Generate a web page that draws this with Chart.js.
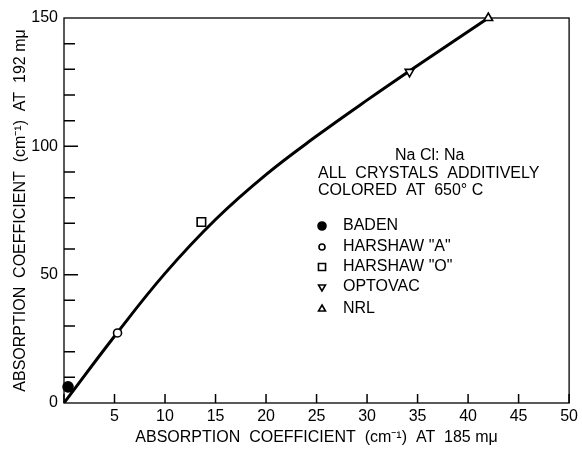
<!DOCTYPE html>
<html>
<head>
<meta charset="utf-8">
<script src="https://cdn.jsdelivr.net/npm/chart.js@4.4.1/dist/chart.umd.min.js"></script>
<style>
  html, body { margin: 0; padding: 0; background: #fff; }
  #wrap { width: 582px; height: 449px; }
</style>
</head>
<body>
<div id="wrap"><canvas id="myChart" width="582" height="449"></canvas></div>
<script>
// fitted curve
const curveX = [0, 5, 10, 15, 20, 25, 30, 35, 42];
const curveY = [0, 26, 50.5, 71.5, 89, 104, 118, 131.5, 150];

// measured crystals
const sampleNames = ['BADEN', 'HARSHAW "A"', 'HARSHAW "O"', 'OPTOVAC', 'NRL'];
const sampleX = [0.4, 5.3, 13.6, 34.2, 42];
const sampleY = [6.3, 27.3, 70.5, 129, 150];

const xTicks = [0, 5, 10, 15, 20, 25, 30, 35, 40, 45, 50];
const yTickLabels = [0, 50, 100, 150];

const noteLines = ['Na Cl: Na', 'ALL  CRYSTALS  ADDITIVELY', 'COLORED  AT  650\u00b0 C'];

const FONT = '"Liberation Sans", Arial, sans-serif';

// marker look per crystal
const markers = [
  { style: 'circle', fill: '#000', r: 5, rot: 0 },
  { style: 'circle', fill: '#fff', r: 4, rot: 0 },
  { style: 'rect', fill: '#fff', r: 6, rot: 0 },
  { style: 'triangle', fill: '#fff', r: 5, rot: 180 },
  { style: 'triangle', fill: '#fff', r: 5, rot: 0 }
];

let datasets = [{
  label: 'curve',
  data: curveX.map((x, i) => ({ x: x, y: curveY[i] })),
  showLine: true,
  borderColor: '#000',
  borderWidth: 3,
  pointRadius: 0,
  tension: 0.4,
  order: 2
}];
sampleNames.forEach((name, i) => {
  datasets.push({
    label: name,
    data: [{ x: sampleX[i], y: sampleY[i] }],
    showLine: false,
    clip: false,
    pointStyle: markers[i].style,
    pointRotation: markers[i].rot,
    pointRadius: markers[i].r,
    pointBackgroundColor: markers[i].fill,
    pointBorderColor: '#000',
    pointBorderWidth: 1.6,
    order: 1
  });
});

// frame, inward ticks and the note/legend text
const framePlugin = {
  id: 'frame',
  beforeDatasetsDraw(chart) {
    const ctx = chart.ctx;
    const a = chart.chartArea;
    const xs = chart.scales.x, ys = chart.scales.y;
    ctx.save();
    ctx.strokeStyle = '#000';
    ctx.lineWidth = 1.3;
    ctx.strokeRect(a.left, a.top, a.right - a.left, a.bottom - a.top);
    ctx.lineWidth = 1.5;
    ctx.beginPath();
    xTicks.forEach(v => {
      const px = xs.getPixelForValue(v);
      ctx.moveTo(px, a.bottom);
      ctx.lineTo(px, a.bottom - 9);
    });
    for (let v = 10; v < 150; v += 10) {
      const py = ys.getPixelForValue(v);
      ctx.moveTo(a.left, py);
      ctx.lineTo(a.left + (v % 50 === 0 ? 14 : 11), py);
    }
    ctx.stroke();
    ctx.restore();
  },
  afterDraw(chart) {
    const ctx = chart.ctx;
    ctx.save();
    ctx.fillStyle = '#000';
    ctx.textBaseline = 'middle';
    ctx.font = '16px ' + FONT;
    ctx.fillText(noteLines[0], 395, 156);
    ctx.fillText(noteLines[1], 318, 174);
    ctx.fillText(noteLines[2], 318, 191);
    const rowY = [226, 247, 267, 287, 309];
    sampleNames.forEach((name, i) => {
      ctx.fillText(name, 343, rowY[i]);
      const m = markers[i];
      ctx.fillStyle = m.fill;
      ctx.strokeStyle = '#000';
      ctx.lineWidth = 1.6;
      Chart.helpers.drawPoint(ctx, {
        pointStyle: m.style,
        rotation: m.rot,
        radius: m.r - 1,
        borderWidth: 1.6
      }, 322, rowY[i]);
      ctx.fillStyle = '#000';
    });
    ctx.restore();
  }
};

const ctx = document.getElementById('myChart').getContext('2d');
const chart = new Chart(ctx, {
  type: 'scatter',
  data: { datasets: datasets },
  plugins: [framePlugin],
  options: {
    responsive: false,
    animation: false,
    events: [],
    layout: { padding: { left: 0, right: 9, top: 18, bottom: 0 } },
    plugins: { legend: { display: false }, tooltip: { enabled: false } },
    scales: {
      x: {
        type: 'linear',
        min: 0, max: 50,
        afterFit(scale) { scale.height = 46; },
        grid: { display: false, drawTicks: false },
        border: { display: false },
        ticks: {
          stepSize: 5,
          padding: 4,
          color: '#000',
          font: { family: FONT, size: 16 },
          callback: v => (v === 0 ? '' : v)
        },
        title: {
          display: true,
          text: 'ABSORPTION  COEFFICIENT  (cm\u207b\u00b9)  AT  185 m\u03bc',
          color: '#000',
          font: { family: FONT, size: 16 },
          padding: { top: 0, bottom: 2 }
        }
      },
      y: {
        type: 'linear',
        min: 0, max: 150,
        afterFit(scale) { scale.width = 64; },
        grid: { display: false, drawTicks: false },
        border: { display: false },
        ticks: {
          stepSize: 10,
          padding: 6,
          color: '#000',
          autoSkip: false,
          font: { family: FONT, size: 16 },
          callback: v => (yTickLabels.includes(v) ? v : '')
        },
        title: {
          display: true,
          text: 'ABSORPTION  COEFFICIENT  (cm\u207b\u00b9)  AT  192 m\u03bc',
          color: '#000',
          font: { family: FONT, size: 16 },
          padding: { top: 11, bottom: 0 }
        }
      }
    }
  }
});
</script>
</body>
</html>
